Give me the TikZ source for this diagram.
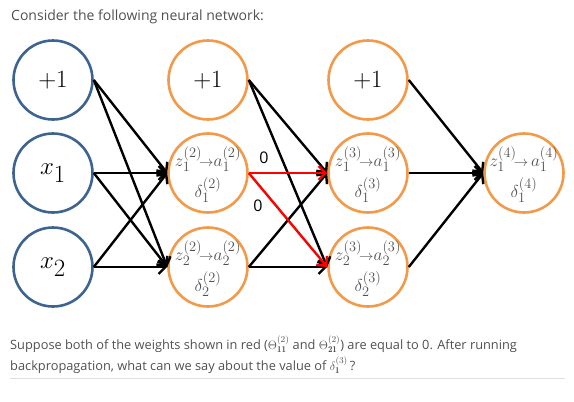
\documentclass[tikz,border=0pt]{standalone}
\usepackage{fontspec}
\newfontfamily\qfont{Open Sans}
\usetikzlibrary{arrows.meta}
\definecolor{inblue}{HTML}{3D6391}
\definecolor{hidorange}{HTML}{F29A4A}
\definecolor{textgray}{HTML}{505050}
\definecolor{rulegray}{HTML}{DDDDDD}
\begin{document}
\begin{tikzpicture}[x=1pt,y=-1pt,neuron/.style={shape=circle,line width=2.6pt,minimum size=79pt,inner sep=0pt,font=\fontsize{25}{25}\selectfont},inp/.style={neuron,draw=inblue},hid/.style={neuron,draw=hidorange},act/.style={text=textgray,inner sep=0pt,font=\fontsize{19}{19}\selectfont},wt/.style={line width=2.4pt,-{Straight Barb[length=7pt,width=14pt]}},wtR/.style={wt,red},zero/.style={font=\qfont\fontsize{16}{16}\selectfont},prose/.style={anchor=base west,inner sep=0pt,text=textgray,font=\qfont\fontsize{12.8}{12.8}\selectfont}]
\def\xa{53};
\def\xb{208};
\def\xc{368};
\def\xd{524};
\def\ya{80};
\def\yb{173};
\def\yc{267};

\useasboundingbox (0,0) rectangle (574,402);

\node[prose,font=\qfont\fontsize{14}{14}\selectfont] (head) at (11,20) {Consider the following neural network:};

% input layer
\node[inp] (B1) at (\xa,\ya) {$+1$};
\node[inp] (X1) at (\xa,\yb) {$x_{\textstyle 1}$};
\node[inp] (X2) at (\xa,\yc) {$x_{\textstyle 2}$};

% hidden layer 2
\node[hid] (B2) at (\xb,\ya) {$+1$};
\node[hid] (H21) at (\xb,\yb) {};
\node[hid] (H22) at (\xb,\yc) {};
\node[act] at ([yshift=14pt]H21.center) {$z_1^{(2)}\!{\scriptstyle\to}a_1^{(2)}$};
\node[act] at ([yshift=-17pt]H21.center) {$\delta_1^{(2)}$};
\node[act] at ([yshift=14pt]H22.center) {$z_2^{(2)}\!{\scriptstyle\to}a_2^{(2)}$};
\node[act] at ([yshift=-17pt]H22.center) {$\delta_2^{(2)}$};

% hidden layer 3
\node[hid] (B3) at (\xc,\ya) {$+1$};
\node[hid] (H31) at (\xc,\yb) {};
\node[hid] (H32) at (\xc,\yc) {};
\node[act] at ([yshift=14pt]H31.center) {$z_1^{(3)}\!{\scriptstyle\to}a_1^{(3)}$};
\node[act] at ([yshift=-17pt]H31.center) {$\delta_1^{(3)}$};
\node[act] at ([yshift=14pt]H32.center) {$z_2^{(3)}\!{\scriptstyle\to}a_2^{(3)}$};
\node[act] at ([yshift=-17pt]H32.center) {$\delta_2^{(3)}$};

% output layer
\node[hid] (O1) at (\xd,\yb) {};
\node[act] at ([yshift=14pt]O1.center) {$z_1^{(4)}\!{\scriptstyle\to}\,a_1^{(4)}$};
\node[act] at ([yshift=-17pt]O1.center) {$\delta_1^{(4)}$};

\draw[wt] (B1.east) -- (H21.west);
\draw[wt] (B1.east) -- (H22.west);
\draw[wt] (X1.east) -- (H21.west);
\draw[wt] (X1.east) -- (H22.west);
\draw[wt] (X2.east) -- (H21.west);
\draw[wt] (X2.east) -- (H22.west);

\draw[wt] (B2.east) -- (H31.west);
\draw[wt] (B2.east) -- (H32.west);
\draw[wt] (H22.east) -- (H31.west);
\draw[wt] (H22.east) -- (H32.west);
\draw[wtR] (H21.east) -- (H31.west);
\draw[wtR] (H21.east) -- (H32.west);
\node[zero] (w11) at (264,158) {0};
\node[zero] (w21) at (258,206) {0};

\draw[wt] (B3.east) -- (O1.west);
\draw[wt] (H31.east) -- (O1.west);
\draw[wt] (H32.east) -- (O1.west);

\node[prose] (ask1) at (10,349) {Suppose both of the weights shown in red ($\Theta^{(2)}_{\mathbf{11}}$ and $\Theta^{(2)}_{\mathbf{21}}$) are equal to 0. After running};
\node[prose] (ask2) at (10,370) {backpropagation, what can we say about the value of $\delta^{(3)}_{\mathbf{1}}$\,?};
\draw[rulegray,line width=0.8pt] (10,378) -- (565,378);
\end{tikzpicture}
\end{document}
